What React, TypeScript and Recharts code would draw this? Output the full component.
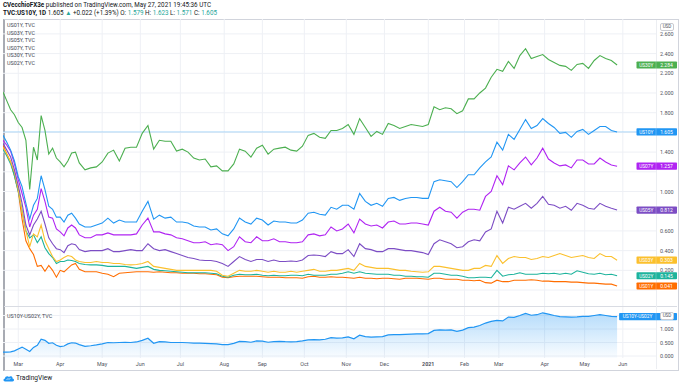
import React from 'react';
import {
  LineChart,
  Line,
  AreaChart,
  Area,
  XAxis,
  YAxis,
  CartesianGrid,
  ReferenceLine,
  LabelList
} from 'recharts';

// trading session index, 0 = Feb 19 2020 ... 322 = May 27 2021
const SESSIONS = [
  0, 2, 4, 6, 8, 10, 12, 14, 16, 18, 20, 22, 24, 26, 28, 30, 32, 34, 36, 38, 40,
  43, 46, 49, 52, 55, 58, 61, 64, 67, 70,
  73, 76, 79, 82, 85, 88, 91, 94, 97, 100,
  103, 106, 109, 112, 115, 118, 121, 124, 127, 130,
  133, 136, 139, 142, 145, 148, 151, 154, 157, 160,
  163, 166, 169, 172, 175, 178, 181, 184, 187, 190,
  193, 196, 199, 202, 205, 208, 211, 214, 217, 220,
  223, 226, 229, 232, 235, 238, 241, 244, 247, 250,
  253, 256, 259, 262, 265, 268, 271, 274, 277, 280,
  283, 286, 289, 292, 295, 298, 301, 304, 307, 310,
  313, 316, 319, 322
];

const US30Y = [
  2.01, 1.92, 1.83, 1.78, 1.70, 1.65, 1.52, 1.02, 1.45, 1.32, 1.77, 1.62, 1.38, 1.44, 1.34, 1.30, 1.25, 1.31, 1.39, 1.40, 1.29,
  1.22, 1.24, 1.25, 1.30, 1.39, 1.42, 1.31, 1.44, 1.45, 1.45,
  1.59, 1.67, 1.43, 1.52, 1.51, 1.51, 1.41, 1.43, 1.40, 1.34,
  1.32, 1.33, 1.25, 1.26, 1.21, 1.21, 1.28, 1.43, 1.41, 1.35,
  1.44, 1.47, 1.38, 1.43, 1.44, 1.45, 1.42, 1.41, 1.46, 1.57,
  1.59, 1.55, 1.54, 1.62, 1.62, 1.64, 1.68, 1.58, 1.74, 1.65,
  1.56, 1.61, 1.58, 1.69, 1.67, 1.64, 1.66, 1.68, 1.67, 1.66,
  1.68, 1.86, 1.83, 1.85, 1.84, 1.79, 1.82, 1.94, 1.94, 2.00,
  2.05, 2.16, 2.24, 2.22, 2.32, 2.25, 2.38, 2.45, 2.35, 2.37,
  2.39, 2.34, 2.31, 2.28, 2.27, 2.23, 2.29, 2.30, 2.25, 2.33,
  2.38, 2.35, 2.33, 2.284
];

const US10Y = [
  1.57, 1.50, 1.42, 1.31, 1.15, 1.05, 0.88, 0.72, 0.86, 0.93, 1.16, 1.02, 0.85, 0.82, 0.74, 0.74, 0.69, 0.76, 0.78, 0.73, 0.67,
  0.64, 0.64, 0.66, 0.68, 0.73, 0.68, 0.71, 0.69, 0.69, 0.69,
  0.80, 0.90, 0.72, 0.76, 0.73, 0.74, 0.69, 0.69, 0.68, 0.65,
  0.64, 0.64, 0.61, 0.62, 0.57, 0.55, 0.62, 0.73, 0.69, 0.67,
  0.73, 0.71, 0.66, 0.70, 0.69, 0.69, 0.68, 0.68, 0.71, 0.78,
  0.79, 0.77, 0.76, 0.84, 0.82, 0.86, 0.86, 0.82, 0.98, 0.90,
  0.86, 0.88, 0.85, 0.93, 0.94, 0.91, 0.93, 0.94, 0.94, 0.93,
  0.93, 1.10, 1.12, 1.11, 1.10, 1.04, 1.10, 1.17, 1.17, 1.24,
  1.30, 1.35, 1.50, 1.42, 1.58, 1.53, 1.63, 1.73, 1.64, 1.67,
  1.74, 1.69, 1.65, 1.59, 1.60, 1.55, 1.61, 1.63, 1.58, 1.62,
  1.66, 1.66, 1.62, 1.605
];

const US07Y = [
  1.52, 1.47, 1.41, 1.28, 1.12, 0.98, 0.84, 0.64, 0.76, 0.82, 1.03, 0.90, 0.74, 0.73, 0.62, 0.59, 0.55, 0.63, 0.66, 0.63, 0.56,
  0.53, 0.53, 0.56, 0.56, 0.58, 0.56, 0.56, 0.56, 0.56, 0.57,
  0.66, 0.73, 0.59, 0.59, 0.57, 0.56, 0.53, 0.52, 0.50, 0.48,
  0.48, 0.49, 0.46, 0.47, 0.46, 0.40, 0.44, 0.54, 0.49, 0.48,
  0.54, 0.50, 0.50, 0.52, 0.49, 0.49, 0.48, 0.48, 0.49, 0.56,
  0.57, 0.55, 0.56, 0.64, 0.60, 0.62, 0.67, 0.58, 0.72, 0.67,
  0.65, 0.66, 0.63, 0.69, 0.70, 0.67, 0.67, 0.68, 0.68, 0.67,
  0.66, 0.80, 0.84, 0.80, 0.79, 0.73, 0.79, 0.82, 0.82, 0.81,
  0.95, 1.00, 1.16, 1.07, 1.26, 1.22, 1.29, 1.35, 1.27, 1.34,
  1.44, 1.33, 1.29, 1.26, 1.27, 1.24, 1.32, 1.32, 1.28, 1.28,
  1.34, 1.30, 1.27, 1.257
];

const US05Y = [
  1.49, 1.42, 1.35, 1.22, 1.06, 0.88, 0.66, 0.56, 0.66, 0.72, 0.80, 0.67, 0.53, 0.47, 0.42, 0.41, 0.38, 0.45, 0.47, 0.46, 0.41,
  0.39, 0.40, 0.40, 0.40, 0.42, 0.39, 0.39, 0.40, 0.41, 0.40,
  0.40, 0.47, 0.42, 0.40, 0.41, 0.39, 0.37, 0.35, 0.33, 0.32,
  0.305, 0.30, 0.30, 0.29, 0.27, 0.24, 0.29, 0.34, 0.31, 0.29,
  0.31, 0.31, 0.29, 0.305, 0.29, 0.29, 0.295, 0.29, 0.305, 0.35,
  0.355, 0.35, 0.34, 0.39, 0.37, 0.37, 0.41, 0.34, 0.47, 0.42,
  0.41, 0.39, 0.39, 0.42, 0.42, 0.41, 0.40, 0.40, 0.39, 0.38,
  0.36, 0.47, 0.51, 0.49, 0.47, 0.43, 0.44, 0.49, 0.51, 0.50,
  0.59, 0.62, 0.80, 0.68, 0.84, 0.82, 0.85, 0.88, 0.83, 0.88,
  0.95, 0.87, 0.86, 0.83, 0.85, 0.81, 0.88, 0.86, 0.83, 0.82,
  0.88, 0.85, 0.83, 0.812
];

const US03Y = [
  1.45, 1.38, 1.30, 1.20, 1.02, 0.80, 0.60, 0.44, 0.57, 0.54, 0.66, 0.50, 0.42, 0.34, 0.29, 0.305, 0.33, 0.35, 0.34, 0.305, 0.29,
  0.28, 0.28, 0.29, 0.28, 0.28, 0.27, 0.27, 0.26, 0.255, 0.26,
  0.27, 0.29, 0.24, 0.23, 0.22, 0.21, 0.20, 0.20, 0.20, 0.20,
  0.20, 0.20, 0.20, 0.19, 0.15, 0.14, 0.17, 0.20, 0.19, 0.19,
  0.20, 0.19, 0.18, 0.19, 0.18, 0.18, 0.19, 0.18, 0.19, 0.20,
  0.21, 0.19, 0.19, 0.20, 0.20, 0.21, 0.22, 0.20, 0.27, 0.24,
  0.23, 0.22, 0.22, 0.22, 0.21, 0.20, 0.20, 0.19, 0.185, 0.18,
  0.185, 0.24, 0.24, 0.23, 0.22, 0.21, 0.20, 0.20, 0.22, 0.22,
  0.25, 0.24, 0.35, 0.27, 0.32, 0.34, 0.33, 0.33, 0.31, 0.32,
  0.34, 0.33, 0.35, 0.37, 0.35, 0.33, 0.34, 0.35, 0.33, 0.32,
  0.37, 0.34, 0.34, 0.303
];

const US02Y = [
  1.43, 1.36, 1.28, 1.16, 1.00, 0.80, 0.60, 0.53, 0.56, 0.48, 0.54, 0.43, 0.37, 0.33, 0.27, 0.29, 0.29, 0.305, 0.30, 0.29, 0.27,
  0.26, 0.255, 0.255, 0.25, 0.24, 0.24, 0.24, 0.24, 0.23, 0.22,
  0.23, 0.24, 0.21, 0.20, 0.195, 0.19, 0.185, 0.18, 0.175, 0.175,
  0.175, 0.175, 0.17, 0.165, 0.14, 0.13, 0.15, 0.16, 0.155, 0.155,
  0.16, 0.15, 0.145, 0.15, 0.145, 0.145, 0.15, 0.15, 0.145, 0.16,
  0.15, 0.15, 0.15, 0.16, 0.16, 0.17, 0.185, 0.17, 0.185, 0.17,
  0.165, 0.16, 0.16, 0.16, 0.15, 0.15, 0.14, 0.14, 0.135, 0.135,
  0.13, 0.17, 0.17, 0.16, 0.15, 0.15, 0.14, 0.125, 0.125, 0.13,
  0.13, 0.125, 0.20, 0.14, 0.155, 0.16, 0.175, 0.16, 0.16, 0.16,
  0.17, 0.165, 0.17, 0.16, 0.17, 0.16, 0.195, 0.18, 0.165, 0.16,
  0.17, 0.155, 0.16, 0.145
];

const US01Y = [
  1.47, 1.38, 1.30, 1.16, 1.00, 0.72, 0.50, 0.42, 0.36, 0.24, 0.25, 0.19, 0.25, 0.20, 0.13, 0.20, 0.185, 0.22, 0.255, 0.27, 0.21,
  0.185, 0.185, 0.185, 0.17, 0.16, 0.135, 0.17, 0.175, 0.18, 0.185,
  0.185, 0.185, 0.18, 0.185, 0.18, 0.175, 0.175, 0.17, 0.17, 0.17,
  0.165, 0.165, 0.16, 0.155, 0.13, 0.125, 0.135, 0.14, 0.14, 0.14,
  0.14, 0.135, 0.13, 0.13, 0.13, 0.125, 0.125, 0.125, 0.12, 0.135,
  0.14, 0.13, 0.13, 0.135, 0.13, 0.13, 0.125, 0.12, 0.13, 0.12,
  0.12, 0.115, 0.12, 0.12, 0.115, 0.11, 0.12, 0.12, 0.12, 0.115,
  0.11, 0.12, 0.12, 0.11, 0.11, 0.11, 0.10, 0.10, 0.095, 0.10,
  0.075, 0.07, 0.10, 0.085, 0.085, 0.10, 0.10, 0.10, 0.105, 0.10,
  0.09, 0.09, 0.085, 0.085, 0.085, 0.08, 0.08, 0.075, 0.07, 0.07,
  0.065, 0.06, 0.06, 0.041
];

// US10Y-US02Y spread, lower pane
const SPREAD = [
  0.14, 0.14, 0.15, 0.19, 0.26, 0.33, 0.25, 0.17, 0.32, 0.40, 0.62, 0.58, 0.47, 0.49, 0.40, 0.35, 0.37, 0.45, 0.49, 0.48, 0.42,
  0.36, 0.38, 0.41, 0.45, 0.50, 0.49, 0.50, 0.51, 0.50, 0.52,
  0.58, 0.66, 0.47, 0.53, 0.52, 0.50, 0.50, 0.50, 0.49, 0.48,
  0.48, 0.47, 0.46, 0.45, 0.42, 0.42, 0.47, 0.54, 0.53, 0.51,
  0.56, 0.55, 0.51, 0.53, 0.54, 0.53, 0.525, 0.53, 0.56, 0.60,
  0.61, 0.60, 0.62, 0.68, 0.66, 0.67, 0.71, 0.64, 0.77, 0.72,
  0.70, 0.71, 0.72, 0.78, 0.79, 0.79, 0.80, 0.81, 0.82, 0.82,
  0.83, 0.95, 0.97, 0.96, 0.97, 0.91, 0.96, 1.05, 1.07, 1.13,
  1.22, 1.28, 1.32, 1.30, 1.44, 1.43, 1.50, 1.58, 1.51, 1.53,
  1.60, 1.55, 1.50, 1.46, 1.45, 1.44, 1.45, 1.47, 1.47, 1.50,
  1.53, 1.50, 1.47, 1.46
];

const MONTH_TICKS = [8, 30, 52, 72, 93, 116, 136, 158, 180, 200, 223, 242, 260, 284, 305, 325];
const MONTH_LABELS = ['Mar', 'Apr', 'May', 'Jun', 'Jul', 'Aug', 'Sep', 'Oct', 'Nov', 'Dec', '2021', 'Feb', 'Mar', 'Apr', 'May', 'Jun'];

const PRICE_TICKS = [0.2, 0.4, 0.6, 1.0, 1.4, 1.8, 2.0, 2.2, 2.4, 2.6];
const PRICE_GRID = [0, 0.2, 0.4, 0.6, 0.8, 1.0, 1.2, 1.4, 1.6, 1.8, 2.0, 2.2, 2.4, 2.6];
const SPREAD_TICKS = [0, 0.5, 1.0];
const SPREAD_GRID = [0, 0.5, 1.0, 1.5];

const LEGEND = ['US01Y, TVC', 'US03Y, TVC', 'US05Y, TVC', 'US07Y, TVC', 'US30Y, TVC', 'US02Y, TVC'];

const SERIES = [
  { key: 'us01y', name: 'US01Y', color: '#ff6d00', values: US01Y },
  { key: 'us02y', name: 'US02Y', color: '#1db39c', values: US02Y },
  { key: 'us03y', name: 'US03Y', color: '#fbc02d', values: US03Y },
  { key: 'us05y', name: 'US05Y', color: '#7c4dc4', values: US05Y },
  { key: 'us07y', name: 'US07Y', color: '#b024f2', values: US07Y },
  { key: 'us30y', name: 'US30Y', color: '#4caf50', values: US30Y },
  { key: 'us10y', name: 'US10Y', color: '#2196f3', values: US10Y }
];

const rows = SESSIONS.map((s, i) => {
  const row: Record<string, number> = { session: s, spread: SPREAD[i] };
  SERIES.forEach((ser) => {
    row[ser.key] = ser.values[i];
  });
  return row;
});

const LAST = SESSIONS.length - 1;
const FONT = 'Roboto, "Open Sans", sans-serif';
const X_DOMAIN: [number, number] = [0, 342.4];
const AXIS_X = 656; // left edge of the price scale
const GREEN = '#26a69a';

const PriceTick = (props: any) => (
  <text x={props.x + 4} y={props.y} dy={2} fontSize={5.4} fill="#50535e" fontFamily={FONT}>
    {Number(props.payload.value).toFixed(3)}
  </text>
);

const MonthTick = (props: any) => {
  const label = MONTH_LABELS[MONTH_TICKS.indexOf(props.payload.value)];
  return (
    <text
      x={props.x}
      y={props.y + 7.5}
      textAnchor="middle"
      fontSize={5.4}
      fill="#50535e"
      fontWeight={label === '2021' ? 700 : 400}
      fontFamily={FONT}
    >
      {label}
    </text>
  );
};

// price-scale badge at the last point of a series
const makeBadge = (name: string, color: string, showValue = true) => (props: any) => {
  if (props.index !== LAST || props.y == null) return null;
  const y = Number(props.y);
  const nameW = name.length * 2.9 + 5;
  return (
    <g fontFamily={FONT}>
      <rect x={AXIS_X - nameW} y={y - 3.6} width={nameW + 21} height={7.2} fill={color} rx={0.8} />
      <line x1={AXIS_X} x2={AXIS_X} y1={y - 3.6} y2={y + 3.6} stroke="#ffffff" strokeOpacity={0.5} strokeWidth={0.5} />
      <text x={AXIS_X - nameW / 2} y={y} dy={1.8} textAnchor="middle" fontSize={4.8} fill="#fff">
        {name}
      </text>
      {showValue && (
        <text x={AXIS_X + 10.5} y={y} dy={1.8} textAnchor="middle" fontSize={5} fill="#fff">
          {Number(props.value).toFixed(3)}
        </text>
      )}
    </g>
  );
};

const usdBox = (top: number) => (
  <div
    style={{
      position: 'absolute',
      left: 660,
      top,
      width: 12,
      height: 6,
      border: '1px solid #c8cad0',
      borderRadius: 2,
      background: '#fff',
      fontSize: 4.6,
      lineHeight: '6px',
      textAlign: 'center',
      color: '#50535e',
      fontFamily: FONT
    }}
  >
    USD
  </div>
);

export default function App() {
  return (
    <div
      style={{
        position: 'absolute',
        left: 0,
        top: 0,
        width: 680,
        height: 386,
        background: '#fff',
        overflow: 'hidden',
        fontFamily: FONT
      }}
    >
      {/* header */}
      <div style={{ position: 'absolute', left: 3, top: 2, fontSize: 6.3, lineHeight: '7.6px', color: '#131722', whiteSpace: 'nowrap' }}>
        <div>
          <b>CVecchioFX3e</b> published on TradingView.com, May 27, 2021 19:45:36 UTC
        </div>
        <div>
          <b>TVC:US10Y, 1D</b> 1.605 <span style={{ color: GREEN }}>▲</span> +0.022 (+1.39%) O: <span style={{ color: GREEN }}>1.579</span> H:{' '}
          <span style={{ color: GREEN }}>1.623</span> L: <span style={{ color: GREEN }}>1.571</span> C: <span style={{ color: GREEN }}>1.605</span>
        </div>
      </div>

      {/* frame */}
      <div style={{ position: 'absolute', left: 3, top: 19, width: 673, height: 350, border: '1px solid #d1d4dc', borderLeft: '2px solid #a8abb3' }} />
      <div style={{ position: 'absolute', left: 4, top: 306, width: 673, height: 1, background: '#d9dce3' }} />
      <div style={{ position: 'absolute', left: AXIS_X, top: 20, width: 1, height: 349, background: '#eceef2' }} />

      {/* main pane */}
      <div style={{ position: 'absolute', left: 0, top: 0 }}>
        <LineChart width={680} height={306} data={rows} margin={{ top: 19, right: 3, bottom: 0, left: 3 }}>
          <CartesianGrid stroke="#eef0f5" horizontalValues={PRICE_GRID} verticalValues={MONTH_TICKS} />
          <XAxis type="number" dataKey="session" domain={X_DOMAIN} hide allowDataOverflow />
          <YAxis
            orientation="right"
            width={21}
            domain={[-0.162, 2.751]}
            ticks={PRICE_TICKS}
            interval={0}
            tick={<PriceTick />}
            tickSize={0}
            tickMargin={0}
            axisLine={false}
            tickLine={false}
            allowDataOverflow
          />
          <ReferenceLine y={1.605} stroke="#90caf9" strokeOpacity={0.7} strokeWidth={1} />
          {SERIES.map((s) => (
            <Line
              key={s.key}
              dataKey={s.key}
              stroke={s.color}
              strokeWidth={1.1}
              dot={false}
              type="linear"
              isAnimationActive={false}
            >
              <LabelList dataKey={s.key} content={makeBadge(s.name, s.color)} />
            </Line>
          ))}
        </LineChart>
      </div>

      {/* spread pane */}
      <div style={{ position: 'absolute', left: 0, top: 307 }}>
        <AreaChart width={680} height={63} data={rows} margin={{ top: 0, right: 3, bottom: 0, left: 3 }}>
          <defs>
            <linearGradient id="spreadFill" x1="0" y1="0" x2="0" y2="1">
              <stop offset="0%" stopColor="#2196f3" stopOpacity={0.55} />
              <stop offset="100%" stopColor="#2196f3" stopOpacity={0.04} />
            </linearGradient>
          </defs>
          <CartesianGrid stroke="#eef0f5" horizontalValues={SPREAD_GRID} verticalValues={MONTH_TICKS} />
          <XAxis
            type="number"
            dataKey="session"
            domain={X_DOMAIN}
            ticks={MONTH_TICKS}
            interval={0}
            height={12}
            tick={<MonthTick />}
            tickSize={0}
            tickMargin={0}
            axisLine={false}
            tickLine={false}
            allowDataOverflow
          />
          <YAxis
            orientation="right"
            width={21}
            domain={[-0.074, 1.815]}
            ticks={SPREAD_TICKS}
            interval={0}
            tick={<PriceTick />}
            tickSize={0}
            tickMargin={0}
            axisLine={false}
            tickLine={false}
            allowDataOverflow
          />
          <Area
            dataKey="spread"
            type="linear"
            stroke="#2196f3"
            strokeWidth={1.2}
            fill="url(#spreadFill)"
            baseValue="dataMin"
            isAnimationActive={false}
          >
            {/* value part sits under the USD caption, as in the source */}
            <LabelList dataKey="spread" content={makeBadge('US10Y-US02Y', '#2196f3', false)} />
          </Area>
        </AreaChart>
      </div>

      {/* legends and scale captions */}
      <div style={{ position: 'absolute', left: 7, top: 22.4, fontSize: 5.4, lineHeight: '7.45px', color: '#434651' }}>
        {LEGEND.map((l) => (
          <div key={l}>{l}</div>
        ))}
      </div>
      <div style={{ position: 'absolute', left: 7, top: 312.5, fontSize: 5.4, lineHeight: '7px', color: '#434651' }}>US10Y-US02Y, TVC</div>
      {usdBox(23)}
      {usdBox(311.5)}

      {/* logo */}
      <div style={{ position: 'absolute', left: 3, top: 374, display: 'flex', alignItems: 'center', fontSize: 6.6, color: '#131722' }}>
        <svg width={11} height={7} viewBox="0 0 22 14">
          <path d="M4 13 C0 13 0 7 4 7 C4 2 10 1 12 4 C14 1 20 2 19 7 C23 7 23 13 19 13 Z" fill="#2196f3" />
          <path d="M7 10 L10 7 L12 9 L15 6" stroke="#fff" strokeWidth={1.4} fill="none" />
        </svg>
        <span style={{ marginLeft: 2 }}>TradingView</span>
      </div>
    </div>
  );
}
